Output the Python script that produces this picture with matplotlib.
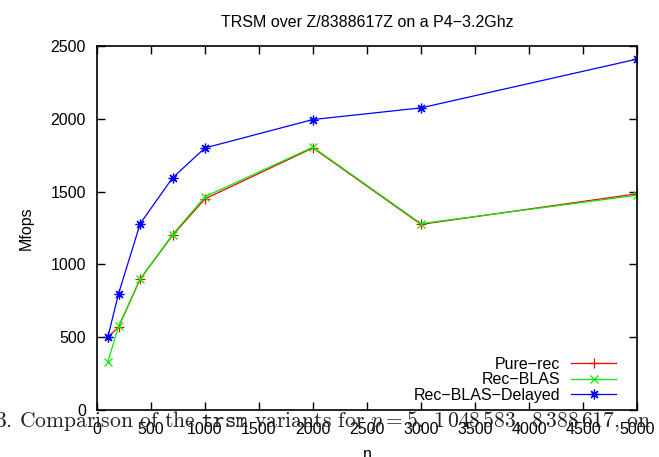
import matplotlib
matplotlib.use('Agg')
import matplotlib.pyplot as plt

n = [100, 200, 400, 700, 1000, 2000, 3000, 5000]
pure_rec = [500, 570, 900, 1200, 1450, 1800, 1275, 1485]
rec_blas = [330, 575, 900, 1205, 1465, 1805, 1280, 1475]
rec_blas_delayed = [500, 800, 1280, 1595, 1800, 1995, 2075, 2410]

plt.rcParams['font.family'] = ['Liberation Sans', 'DejaVu Sans']
plt.rcParams['mathtext.fontset'] = 'cm'
fs = 11.5

fig = plt.figure(figsize=(6.59, 4.57), dpi=100)
ax = fig.add_axes([97 / 659, 1 - 410 / 457, 540 / 659, 364 / 457])

ax.plot(n, pure_rec, color='#ff0000', lw=0.9, marker='+', ms=7, mew=0.9, label='Pure\u2212rec')
ax.plot(n, rec_blas, color='#00ee00', lw=0.9, marker='x', ms=6, mew=0.9, label='Rec\u2212BLAS')
ax.plot(n, rec_blas_delayed, color='#0000ff', lw=0.9, marker=(8, 2, 0), ms=7, mew=0.9, label='Rec\u2212BLAS\u2212Delayed')

ax.set_xlim(0, 5000)
ax.set_ylim(0, 2500)
ax.set_xticks(range(0, 5001, 500))
ax.set_yticks(range(0, 2501, 500))
ax.tick_params(direction='in', length=6, width=1, top=True, right=True, labelsize=fs)
ax.tick_params(axis='x', pad=9)
ax.tick_params(axis='y', pad=8)
for s in ax.spines.values():
    s.set_linewidth(1.2)

ax.set_title('TRSM over Z/8388617Z on a P4\u22123.2Ghz', fontsize=fs, pad=13.5)
ax.set_xlabel('n', fontsize=fs, labelpad=7)
ax.set_ylabel('Mfops', fontsize=fs, labelpad=12)

ax.legend(loc='lower right', bbox_to_anchor=(0.961, 0.02), frameon=False, markerfirst=False,
          fontsize=fs, handlelength=2.8, labelspacing=0.03, borderaxespad=0, borderpad=0,
          handletextpad=0.7)

fig.text(-0.008, 30.3 / 457,
         r'3. Comparison of the $\mathtt{trsm}$ variants for $p = 5,\ 1\,048\,583,\ 8\,388\,617$, on',
         family='cmr10', fontsize=15.6, va='baseline', ha='left', color='#222222')

fig.savefig('out.png', dpi=100)
